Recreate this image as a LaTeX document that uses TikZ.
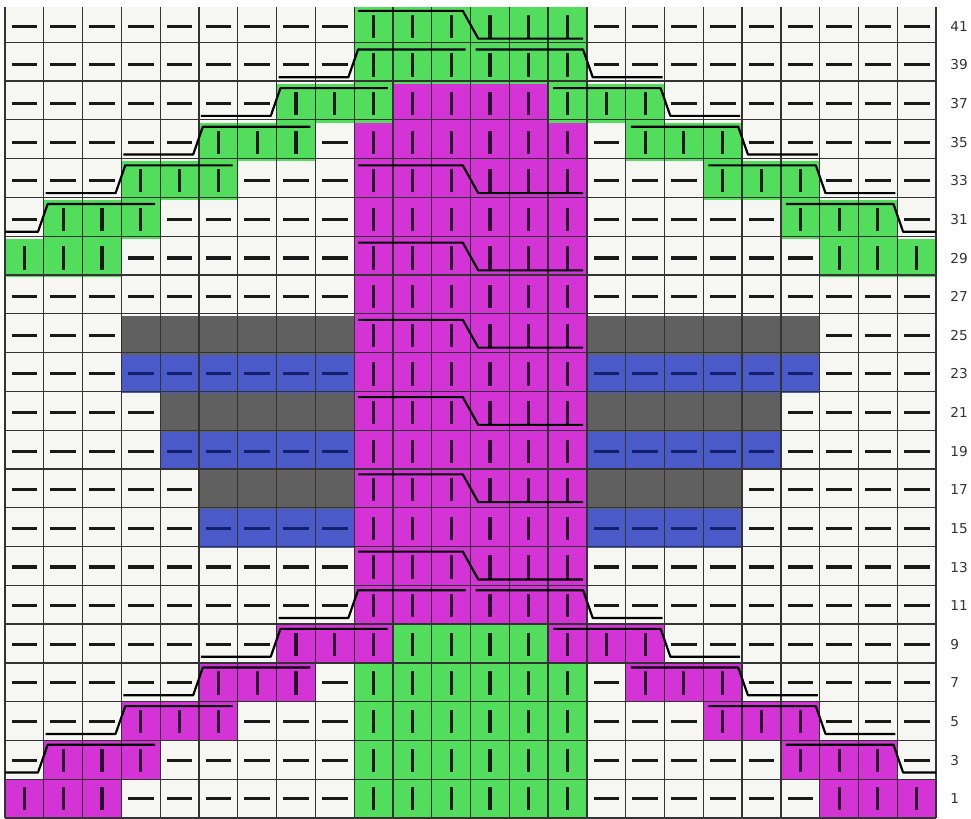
\documentclass[tikz,border=0pt]{standalone}
\usepackage{fontspec}
\setmainfont{DejaVu Sans}
\usepackage{xcolor}
\usepackage{tikz}
\definecolor{knitgreen}{HTML}{52DD5C}
\definecolor{knitmagenta}{HTML}{D434D6}
\definecolor{purlblue}{HTML}{4A5AC8}
\definecolor{blankgray}{HTML}{606060}
\definecolor{purlwhite}{HTML}{F6F7F2}
\definecolor{navydash}{HTML}{14206E}

\newcommand{\cablemid}[1]{\draw[cable] (9.1,#1+0.9) -- (11.8,#1+0.9) -- (12.2,#1+0.18) -- (14.9,#1+0.18);}
\newcommand{\cableleft}[2]{\draw[cable] (#2+0.05,#1+0.18) -- (#2+1.85,#1+0.18) -- (#2+2.1,#1+0.9) -- (#2+4.87,#1+0.9);}
\newcommand{\cableright}[2]{\draw[cable] (#2+0.13,#1+0.9) -- (#2+2.9,#1+0.9) -- (#2+3.15,#1+0.18) -- (#2+4.95,#1+0.18);}

\begin{document}
\begin{tikzpicture}[x=1cm,y=0.9956cm,
  cellgrid/.style={draw=black!80,line width=0.95pt},
  dashline/.style={line width=2.3pt,draw=black!90},
  barline/.style={line width=2.3pt,draw=black!90},
  cable/.style={line width=1.6pt,draw=black,line join=round},
  rowlabel/.style={anchor=west,inner sep=0pt,font=\fontsize{10}{12}\selectfont,text=black!80},
  purlw/.pic={\fill[purlwhite] (0,0) rectangle (1,1); \draw[dashline] (0.17,0.5) -- (0.83,0.5);},
  purlb/.pic={\fill[purlblue] (0,0) rectangle (1,1); \draw[dashline,draw=navydash] (0.17,0.5) -- (0.83,0.5);},
  knitg/.pic={\fill[knitgreen] (0,0) rectangle (1,1); \draw[barline] (0.5,0.2) -- (0.5,0.8);},
  knitm/.pic={\fill[knitmagenta] (0,0) rectangle (1,1); \draw[barline,draw=knitmagenta!20!black] (0.5,0.2) -- (0.5,0.8);},
  blank/.pic={\fill[blankgray] (0,0) rectangle (1,1);}
]
\useasboundingbox (-0.129,0) rectangle (24.90,21.181);
\foreach \r/\a/\b/\k in {
  0/0/2/knitm, 0/3/8/purlw, 0/9/11/knitg,
  1/0/0/purlw, 1/1/3/knitm, 1/4/8/purlw, 1/9/11/knitg,
  2/0/2/purlw, 2/3/5/knitm, 2/6/8/purlw, 2/9/11/knitg,
  3/0/4/purlw, 3/5/7/knitm, 3/8/8/purlw, 3/9/11/knitg,
  4/0/6/purlw, 4/7/9/knitm, 4/10/11/knitg,
  5/0/8/purlw, 5/9/11/knitm,
  6/0/8/purlw, 6/9/11/knitm,
  7/0/4/purlw, 7/5/8/purlb, 7/9/11/knitm,
  8/0/4/purlw, 8/5/8/blank, 8/9/11/knitm,
  9/0/3/purlw, 9/4/8/purlb, 9/9/11/knitm,
  10/0/3/purlw, 10/4/8/blank, 10/9/11/knitm,
  11/0/2/purlw, 11/3/8/purlb, 11/9/11/knitm,
  12/0/2/purlw, 12/3/8/blank, 12/9/11/knitm,
  13/0/8/purlw, 13/9/11/knitm,
  14/0/2/knitg, 14/3/8/purlw, 14/9/11/knitm,
  15/0/0/purlw, 15/1/3/knitg, 15/4/8/purlw, 15/9/11/knitm,
  16/0/2/purlw, 16/3/5/knitg, 16/6/8/purlw, 16/9/11/knitm,
  17/0/4/purlw, 17/5/7/knitg, 17/8/8/purlw, 17/9/11/knitm,
  18/0/6/purlw, 18/7/9/knitg, 18/10/11/knitm,
  19/0/8/purlw, 19/9/11/knitg,
  20/0/8/purlw, 20/9/11/knitg}
  \foreach \c in {\a,...,\b} {\pic at (\c,\r) {\k}; \pic at (23-\c,\r) {\k};};
\draw[cellgrid] (0,0) grid (24,21);
\begin{scope}
\clip (0,0) rectangle (24,21);
\foreach \r in {20,16,14,12,10,8,6} {\cablemid{\r}}
\foreach \r/\a in {19/7,18/5,17/3,16/1,15/-1,5/7,4/5,3/3,2/1,1/-1} {\cableleft{\r}{\a} \cableright{\r}{19-\a}}
\end{scope}
\foreach \r [evaluate=\r as \lbl using int(2*\r+1)] in {0,...,20}
  \node[rowlabel] (row\lbl) at (24.36,\r+0.5) {\lbl};
\end{tikzpicture}
\end{document}
